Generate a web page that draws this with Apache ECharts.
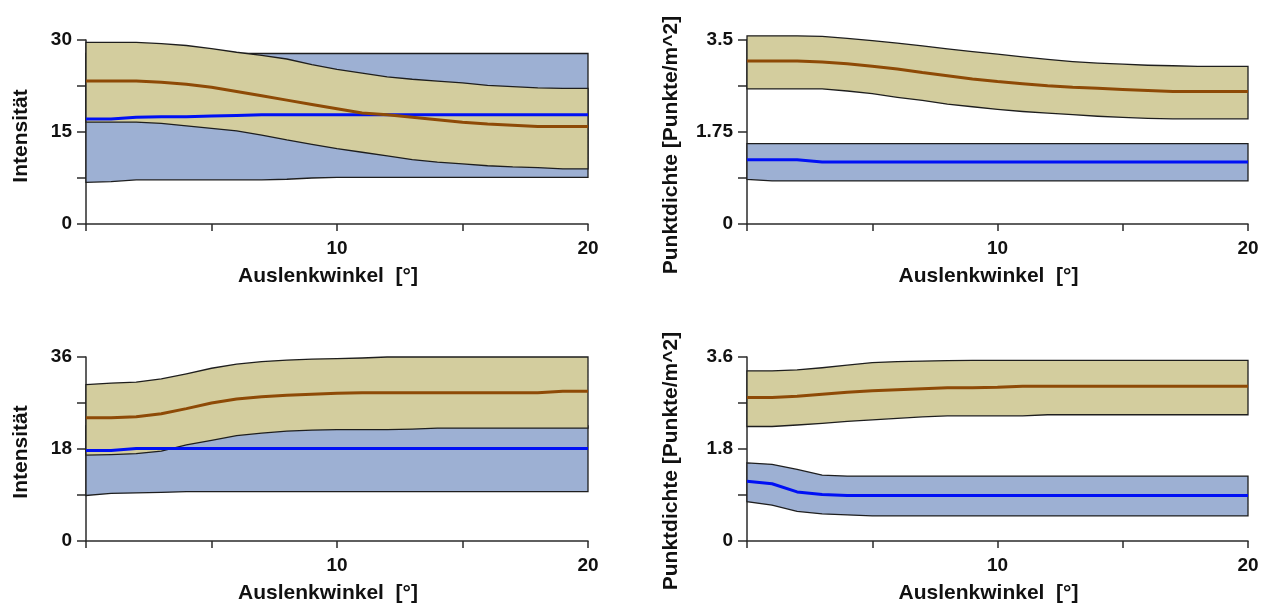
<!DOCTYPE html>
<html>
<head>
<meta charset="utf-8">
<script src="https://cdn.jsdelivr.net/npm/echarts@6/dist/echarts.min.js"></script>
<style>
html,body{margin:0;padding:0;background:#fff;}
#c{width:1270px;height:605px;}
</style>
</head>
<body>
<div id="c"></div>
<script>
// x positions (Auslenkwinkel, degrees)
const angles = [0,1,2,3,4,5,6,7,8,9,10,11,12,13,14,15,16,17,18,19,20];
const xTickLabels = {10:'10', 20:'20'};

// Panel 1 (top-left): Intensität
const p1TanHi  = [29.6,29.6,29.6,29.4,29.1,28.6,28.0,27.5,26.9,26.0,25.2,24.6,24.0,23.6,23.3,23.0,22.6,22.4,22.2,22.1,22.1];
const p1Brown  = [23.3,23.3,23.3,23.1,22.8,22.3,21.6,20.9,20.2,19.5,18.8,18.1,17.8,17.4,17.0,16.6,16.3,16.1,15.9,15.9,15.9];
const p1TanLo  = [16.6,16.6,16.6,16.4,16.0,15.6,15.2,14.5,13.7,13.0,12.3,11.7,11.1,10.5,10.1,9.8,9.5,9.3,9.2,9.0,9.0];
const p1BlueHi = [27.8,27.8,27.8,27.8,27.8,27.8,27.8,27.8,27.8,27.8,27.8,27.8,27.8,27.8,27.8,27.8,27.8,27.8,27.8,27.8,27.8];
const p1Blue   = [17.1,17.1,17.4,17.5,17.5,17.6,17.7,17.8,17.8,17.8,17.8,17.8,17.8,17.8,17.8,17.8,17.8,17.8,17.8,17.8,17.8];
const p1BlueLo = [6.8,6.9,7.2,7.2,7.2,7.2,7.2,7.2,7.3,7.5,7.6,7.6,7.6,7.6,7.6,7.6,7.6,7.6,7.6,7.6,7.6];
const p1YLabels = ['0','15','30'];

// Panel 2 (top-right): Punktdichte
const p2TanHi  = [3.58,3.58,3.58,3.57,3.53,3.49,3.44,3.39,3.33,3.28,3.23,3.18,3.13,3.09,3.06,3.04,3.02,3.01,3.00,3.00,3.00];
const p2Brown  = [3.10,3.10,3.10,3.08,3.05,3.00,2.95,2.88,2.82,2.76,2.71,2.67,2.63,2.60,2.58,2.56,2.54,2.52,2.52,2.52,2.52];
const p2TanLo  = [2.57,2.57,2.57,2.57,2.53,2.48,2.41,2.35,2.28,2.23,2.18,2.14,2.11,2.08,2.05,2.03,2.01,2.00,2.00,2.00,2.00];
const p2BlueHi = [1.53,1.53,1.53,1.53,1.53,1.53,1.53,1.53,1.53,1.53,1.53,1.53,1.53,1.53,1.53,1.53,1.53,1.53,1.53,1.53,1.53];
const p2Blue   = [1.22,1.22,1.22,1.18,1.18,1.18,1.18,1.18,1.18,1.18,1.18,1.18,1.18,1.18,1.18,1.18,1.18,1.18,1.18,1.18,1.18];
const p2BlueLo = [0.85,0.82,0.82,0.82,0.82,0.82,0.82,0.82,0.82,0.82,0.82,0.82,0.82,0.82,0.82,0.82,0.82,0.82,0.82,0.82,0.82];
const p2YLabels = ['0','1.75','3.5'];

// Panel 3 (bottom-left): Intensität
const p3TanHi  = [30.6,30.9,31.1,31.7,32.7,33.8,34.6,35.1,35.4,35.6,35.7,35.8,36.0,36.0,36.0,36.0,36.0,36.0,36.0,36.0,36.0];
const p3Brown  = [24.1,24.1,24.3,24.9,25.9,27.0,27.8,28.2,28.5,28.7,28.9,29.0,29.0,29.0,29.0,29.0,29.0,29.0,29.0,29.3,29.3];
const p3TanLo  = [16.8,16.9,17.1,17.6,18.8,19.7,20.6,21.1,21.5,21.7,21.8,21.8,21.8,21.9,22.1,22.1,22.1,22.1,22.1,22.1,22.1];
const p3BlueHi = [22.5,22.5,22.5,22.5,22.5,22.5,22.5,22.5,22.5,22.5,22.5,22.5,22.5,22.5,22.5,22.5,22.5,22.5,22.5,22.5,22.5];
const p3Blue   = [17.7,17.7,18.1,18.1,18.1,18.1,18.1,18.1,18.1,18.1,18.1,18.1,18.1,18.1,18.1,18.1,18.1,18.1,18.1,18.1,18.1];
const p3BlueLo = [8.9,9.3,9.4,9.5,9.65,9.65,9.65,9.65,9.65,9.65,9.65,9.65,9.65,9.65,9.65,9.65,9.65,9.65,9.65,9.65,9.65];
const p3YLabels = ['0','18','36'];

// Panel 4 (bottom-right): Punktdichte
const p4TanHi  = [3.33,3.33,3.35,3.39,3.44,3.49,3.51,3.52,3.53,3.535,3.535,3.535,3.535,3.535,3.535,3.535,3.535,3.535,3.535,3.535,3.535];
const p4Brown  = [2.81,2.81,2.83,2.87,2.91,2.94,2.96,2.98,3.00,3.00,3.01,3.03,3.03,3.03,3.03,3.03,3.03,3.03,3.03,3.03,3.03];
const p4TanLo  = [2.24,2.24,2.27,2.30,2.34,2.37,2.40,2.43,2.45,2.45,2.45,2.45,2.47,2.47,2.47,2.47,2.47,2.47,2.47,2.47,2.47];
const p4BlueHi = [1.53,1.50,1.40,1.29,1.27,1.27,1.27,1.27,1.27,1.27,1.27,1.27,1.27,1.27,1.27,1.27,1.27,1.27,1.27,1.27,1.27];
const p4Blue   = [1.17,1.12,0.96,0.91,0.89,0.89,0.89,0.89,0.89,0.89,0.89,0.89,0.89,0.89,0.89,0.89,0.89,0.89,0.89,0.89,0.89];
const p4BlueLo = [0.77,0.70,0.58,0.53,0.51,0.49,0.49,0.49,0.49,0.49,0.49,0.49,0.49,0.49,0.49,0.49,0.49,0.49,0.49,0.49,0.49];
const p4YLabels = ['0','1.8','3.6'];

const xName = 'Auslenkwinkel  [°]';
const yNameInt = 'Intensität';
const yNameDens = 'Punktdichte [Punkte/m^2]';

const TAN = '#D3CD9E';
const BLUEFILL = '#9DB0D3';
const BROWN = '#8E4A06';
const BLUE = '#0010F5';
const AXIS = '#2b2b2b';
const LABEL_FONT = '"Liberation Sans", Arial, sans-serif';

const panels = [
  {grid:{left:86, top:40, width:502, height:184}, ymax:30, yLabels:p1YLabels, yName:yNameInt, nameGap:54, shift:4,
   tanHi:p1TanHi, tanLo:p1TanLo, brown:p1Brown, blueHi:p1BlueHi, blueLo:p1BlueLo, blue:p1Blue},
  {grid:{left:747, top:40, width:501, height:184}, ymax:3.5, yLabels:p2YLabels, yName:yNameDens, nameGap:65, shift:13,
   tanHi:p2TanHi, tanLo:p2TanLo, brown:p2Brown, blueHi:p2BlueHi, blueLo:p2BlueLo, blue:p2Blue},
  {grid:{left:86, top:357, width:502, height:184}, ymax:36, yLabels:p3YLabels, yName:yNameInt, nameGap:54, shift:3,
   tanHi:p3TanHi, tanLo:p3TanLo, brown:p3Brown, blueHi:p3BlueHi, blueLo:p3BlueLo, blue:p3Blue},
  {grid:{left:747, top:357, width:501, height:184}, ymax:3.6, yLabels:p4YLabels, yName:yNameDens, nameGap:65, shift:12,
   tanHi:p4TanHi, tanLo:p4TanLo, brown:p4Brown, blueHi:p4BlueHi, blueLo:p4BlueLo, blue:p4Blue}
];

function bandSeries(idx, lo, hi, fill, z) {
  return {
    type:'custom', xAxisIndex:idx, yAxisIndex:idx, z:z, silent:true,
    data: angles.map((a,i)=>[a, lo[i], hi[i]]),
    encode:{x:0, y:[1,2]},
    clip:false,
    renderItem:function(params, api){
      if (params.dataIndex !== 0) return null;
      const pts = [];
      for (let i=0;i<angles.length;i++) pts.push(api.coord([angles[i], hi[i]]));
      for (let i=angles.length-1;i>=0;i--) pts.push(api.coord([angles[i], lo[i]]));
      return {type:'polygon', shape:{points:pts}, style:{fill:fill, stroke:'#1e1e1e', lineWidth:1.3}};
    }
  };
}
function lineSeries(idx, vals, color, z) {
  return {type:'line', xAxisIndex:idx, yAxisIndex:idx, z:z, silent:true, showSymbol:false, symbol:'none',
    data: angles.map((a,i)=>[a, vals[i]]), lineStyle:{color:color, width:3}};
}

const grids = [], xAxes = [], yAxes = [], series = [];
panels.forEach((p, idx) => {
  grids.push(p.grid);
  xAxes.push({
    type:'value', gridIndex:idx, min:0, max:20, interval:5,
    name:xName, nameLocation:'middle', nameGap:42,
    nameTextStyle:{fontFamily:LABEL_FONT, fontWeight:'bold', fontSize:21, color:'#111', padding:[0,18,0,0]},
    axisLine:{show:true, lineStyle:{color:AXIS, width:1.5}},
    axisTick:{show:true, length:7, lineStyle:{color:AXIS, width:1.5}},
    axisLabel:{margin:15, fontFamily:LABEL_FONT, fontWeight:'bold', fontSize:19, color:'#111',
      formatter:(v)=> xTickLabels[Math.round(v)] || ''},
    splitLine:{show:false}
  });
  yAxes.push({
    type:'value', gridIndex:idx, min:0, max:p.ymax, interval:p.ymax/4,
    name:p.yName, nameLocation:'middle', nameGap:p.nameGap, nameRotate:90,
    nameTextStyle:{fontFamily:LABEL_FONT, fontWeight:'bold', fontSize:21, color:'#111', padding:[0,p.shift*2,0,0]},
    axisLine:{show:true, lineStyle:{color:AXIS, width:1.5}},
    axisTick:{show:true, length:9, lineStyle:{color:AXIS, width:1.5}},
    axisLabel:{margin:14, fontFamily:LABEL_FONT, fontWeight:'bold', fontSize:19, color:'#111',
      formatter:(v, i)=> (i % 2 === 0 ? p.yLabels[i/2] : '')},
    splitLine:{show:false}
  });
  series.push(bandSeries(idx, p.blueLo, p.blueHi, BLUEFILL, 1));
  series.push(bandSeries(idx, p.tanLo, p.tanHi, TAN, 2));
  series.push(lineSeries(idx, p.blue, BLUE, 3));
  series.push(lineSeries(idx, p.brown, BROWN, 4));
});

const chart = echarts.init(document.getElementById('c'), null, {renderer:'canvas'});
chart.setOption({
  animation:false,
  backgroundColor:'#ffffff',
  grid:grids, xAxis:xAxes, yAxis:yAxes, series:series
});
</script>
</body>
</html>
